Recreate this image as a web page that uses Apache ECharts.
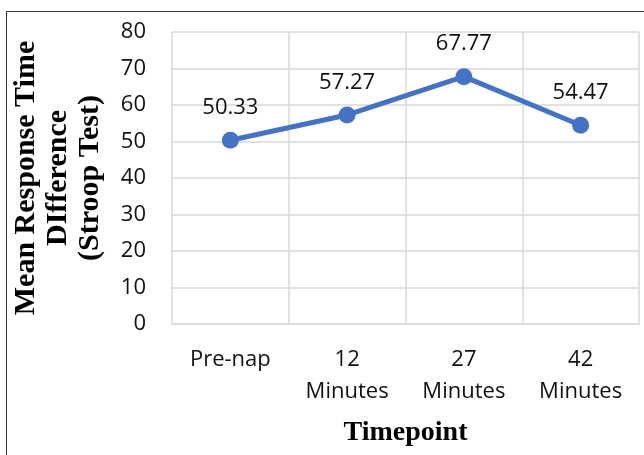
<!DOCTYPE html>
<html>
<head>
<meta charset="utf-8">
<script src="https://cdn.jsdelivr.net/npm/echarts@6/dist/echarts.min.js"></script>
<style>
html,body{margin:0;padding:0;background:#fff;}
#chart{width:644px;height:455px;}
</style>
</head>
<body>
<div id="chart"></div>
<script>
const categories = ['Pre-nap', '12\nMinutes', '27\nMinutes', '42\nMinutes'];
const values = [50.33, 57.27, 67.77, 54.47];
const yTicks = { min: 0, max: 80, interval: 10 };
const xTitle = 'Timepoint';
const yTitle = 'Mean Response Time\nDIfference\n(Stroop Test)';

const chart = echarts.init(document.getElementById('chart'), null, { renderer: 'canvas' });
const labelFont = '"Open Sans", sans-serif';
chart.setOption({
  animation: false,
  backgroundColor: '#fff',
  graphic: [{
    type: 'rect',
    shape: { x: 6.5, y: 11.5, width: 700, height: 500 },
    style: { fill: 'none', stroke: '#333', lineWidth: 1 },
    silent: true
  }],
  grid: { left: 172, right: 5, top: 32, bottom: 131 },
  xAxis: {
    type: 'category',
    data: categories,
    boundaryGap: true,
    axisLine: { show: true, lineStyle: { color: '#d9d9d9', width: 1.5 } },
    axisTick: { show: false },
    splitLine: { show: true, lineStyle: { color: '#d9d9d9', width: 1.5 } },
    axisLabel: { color: '#111', fontFamily: labelFont, fontSize: 22, lineHeight: 32, margin: 20, interval: 0 },
    name: xTitle,
    nameLocation: 'middle',
    nameGap: 95,
    nameTextStyle: { fontFamily: '"Liberation Serif", serif', fontWeight: 'bold', fontSize: 28, color: '#000' }
  },
  yAxis: {
    type: 'value',
    min: yTicks.min,
    max: yTicks.max,
    interval: yTicks.interval,
    axisLine: { show: false },
    axisTick: { show: false },
    splitLine: { show: true, lineStyle: { color: '#d9d9d9', width: 1.5 } },
    axisLabel: { color: '#111', fontFamily: labelFont, fontSize: 22, margin: 26 },
    name: yTitle,
    nameLocation: 'middle',
    nameRotate: 90,
    nameGap: 66,
    nameTextStyle: { fontFamily: '"Liberation Serif", serif', fontWeight: 'bold', fontSize: 30, lineHeight: 32, color: '#000', align: 'center' }
  },
  series: [{
    type: 'line',
    data: values,
    symbol: 'circle',
    symbolSize: 17,
    lineStyle: { color: '#4472C4', width: 5 },
    itemStyle: { color: '#4472C4' },
    label: {
      show: true,
      position: 'top',
      distance: 13,
      color: '#111',
      fontFamily: labelFont,
      fontSize: 22,
      formatter: p => p.value.toFixed(2)
    }
  }]
});
</script>
</body>
</html>
